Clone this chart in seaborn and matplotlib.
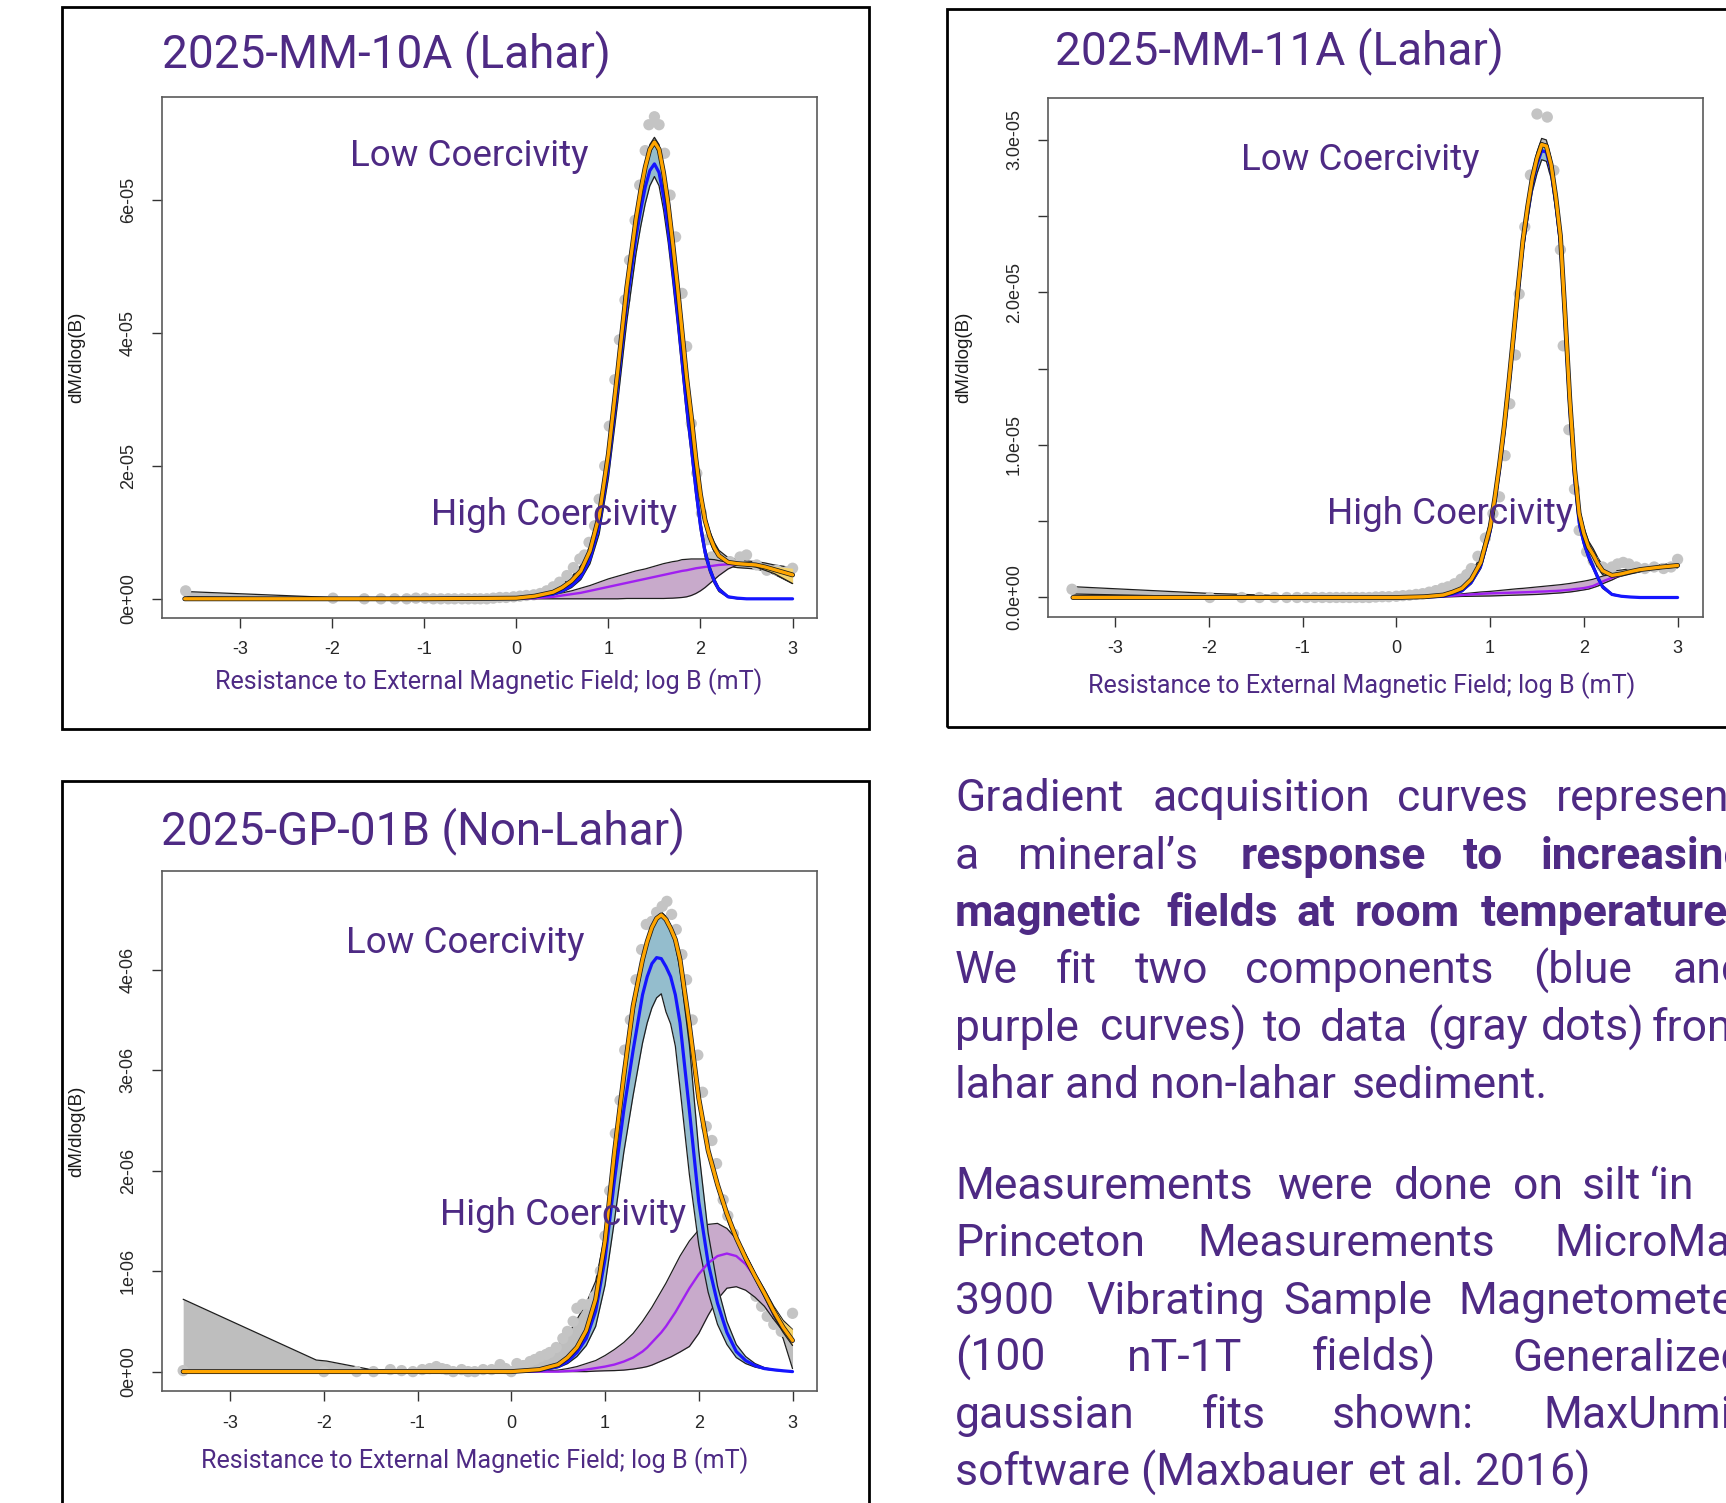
import numpy as np
import matplotlib
matplotlib.use("Agg")
import matplotlib.pyplot as plt
import matplotlib.patheffects as pe
from matplotlib.patches import Rectangle
import seaborn as sns

# ---------------- panel 1 : 2025-MM-10A (Lahar), y in 1e-05 ----------------
x1 = [-3.6, -2.0, -1.0, 0.0, 0.2, 0.4, 0.5, 0.6, 0.7, 0.8, 0.9, 1.0, 1.1, 1.2, 1.3, 1.35, 1.4, 1.45, 1.5,
      1.55, 1.6, 1.65, 1.7, 1.75, 1.8, 1.85, 1.9, 1.95, 2.0, 2.05, 2.1, 2.15, 2.2, 2.3, 2.4, 2.5, 2.6, 2.7,
      2.8, 2.9, 3.0]
blue1 = [0, 0, 0, 0.01, 0.03, 0.07, 0.12, 0.2, 0.33, 0.6, 1.1, 2.0, 3.2, 4.45, 5.45, 5.85, 6.2, 6.45, 6.55,
         6.42, 6.05, 5.55, 4.95, 4.3, 3.6, 2.9, 2.3, 1.65, 1.1, 0.7, 0.45, 0.27, 0.14, 0.03, 0.01, 0, 0, 0,
         0, 0, 0]
purp1 = [0, 0, 0, 0, 0.01, 0.03, 0.05, 0.07, 0.09, 0.12, 0.15, 0.18, 0.21, 0.24, 0.27, 0.285, 0.3, 0.315,
         0.33, 0.345, 0.36, 0.375, 0.39, 0.405, 0.42, 0.43, 0.445, 0.46, 0.47, 0.48, 0.49, 0.5, 0.51, 0.52,
         0.52, 0.52, 0.51, 0.48, 0.44, 0.4, 0.36]
total1 = [0, 0, 0, 0.01, 0.04, 0.1, 0.17, 0.27, 0.42, 0.72, 1.25, 2.18, 3.41, 4.69, 5.72, 6.14, 6.5, 6.77,
          6.88, 6.77, 6.41, 5.93, 5.34, 4.71, 4.02, 3.33, 2.75, 2.11, 1.57, 1.18, 0.94, 0.77, 0.65, 0.55,
          0.53, 0.52, 0.51, 0.48, 0.44, 0.4, 0.36]
blue_lo1 = [0, 0, 0, 0.01, 0.02, 0.06, 0.1, 0.17, 0.29, 0.53, 0.98, 1.82, 2.95, 4.18, 5.2, 5.6, 5.95, 6.22,
            6.36, 6.22, 5.85, 5.36, 4.76, 4.12, 3.43, 2.75, 2.17, 1.54, 1.01, 0.63, 0.4, 0.23, 0.11, 0.02,
            0, 0, 0, 0, 0, 0, 0]
blue_hi1 = [0, 0, 0, 0.01, 0.04, 0.08, 0.14, 0.23, 0.37, 0.67, 1.22, 2.18, 3.45, 4.72, 5.7, 6.1, 6.45, 6.72,
            6.86, 6.7, 6.3, 5.78, 5.16, 4.5, 3.78, 3.06, 2.44, 1.77, 1.2, 0.78, 0.5, 0.31, 0.17, 0.04,
            0.01, 0, 0, 0, 0, 0, 0]
purp_lo1 = [0, 0, 0, 0, 0, 0, 0, 0, 0, 0, 0, 0, 0, 0.005, 0.005, 0.005, 0.005, 0.005, 0.005, 0.005, 0.005,
            0.008, 0.01, 0.015, 0.02, 0.03, 0.05, 0.08, 0.12, 0.17, 0.23, 0.29, 0.35, 0.45, 0.51, 0.52,
            0.51, 0.48, 0.44, 0.4, 0.36]
purp_hi1 = [0, 0, 0, 0.01, 0.03, 0.06, 0.09, 0.12, 0.16, 0.2, 0.25, 0.3, 0.34, 0.38, 0.42, 0.435, 0.45,
            0.47, 0.49, 0.51, 0.53, 0.545, 0.56, 0.57, 0.59, 0.595, 0.6, 0.6, 0.6, 0.6, 0.595, 0.59, 0.575,
            0.55, 0.53, 0.52, 0.51, 0.48, 0.44, 0.4, 0.36]
gray_lo1 = [0.03, 0.01, 0.0, 0.0, 0.02, 0.07, 0.13, 0.22, 0.36, 0.65, 1.17, 2.1, 3.33, 4.61, 5.65, 6.07,
            6.43, 6.7, 6.81, 6.7, 6.33, 5.86, 5.27, 4.64, 3.95, 3.26, 2.68, 2.04, 1.5, 1.11, 0.87, 0.7,
            0.58, 0.49, 0.47, 0.46, 0.45, 0.42, 0.37, 0.3, 0.23]
gray_hi1 = [0.11, 0.02, 0.015, 0.04, 0.08, 0.15, 0.22, 0.33, 0.5, 0.8, 1.33, 2.27, 3.5, 4.78, 5.8, 6.21,
            6.57, 6.84, 6.95, 6.84, 6.49, 6.0, 5.42, 4.79, 4.1, 3.41, 2.83, 2.19, 1.65, 1.26, 1.02, 0.85,
            0.73, 0.62, 0.59, 0.57, 0.56, 0.54, 0.51, 0.49, 0.46]
yel_x1 = [2.4, 2.6, 2.8, 3.0]
yel_lo1 = [0.52, 0.48, 0.38, 0.23]
yel_hi1 = [0.54, 0.53, 0.49, 0.46]
dots_x1 = [-3.59, -1.99, -1.65, -1.47, -1.32, -1.19, -1.09, -0.99, -0.9, -0.82, -0.74, -0.67, -0.59, -0.52,
           -0.45, -0.39, -0.32, -0.25, -0.18, -0.11, -0.03, 0.04, 0.11, 0.19, 0.26, 0.33, 0.4, 0.47, 0.55,
           0.62, 0.69, 0.74, 0.79, 0.85, 0.9, 0.96, 1.01, 1.07, 1.12, 1.18, 1.23, 1.29, 1.34, 1.4, 1.44,
           1.5, 1.55, 1.61, 1.67, 1.73, 1.8, 1.85, 1.9, 1.96, 2.01, 2.07, 2.12, 2.21, 2.32, 2.43, 2.5,
           2.61, 2.72, 2.83, 2.94, 3.0]
dots_y1 = [0.12, 0.01, 0, 0, 0, 0, 0.01, 0.01, 0, 0, 0, 0, 0, 0, 0, 0, 0, 0.01, 0.02, 0.02, 0.03, 0.04,
           0.05, 0.06, 0.08, 0.12, 0.18, 0.25, 0.35, 0.47, 0.6, 0.66, 0.85, 1.1, 1.5, 2.0, 2.6, 3.3, 3.9,
           4.5, 5.1, 5.7, 6.23, 6.75, 7.14, 7.26, 7.14, 6.71, 6.08, 5.45, 4.6, 3.8, 2.64, 1.89, 1.29, 0.89,
           0.63, 0.58, 0.56, 0.63, 0.66, 0.51, 0.43, 0.43, 0.41, 0.46]

# ---------------- panel 2 : 2025-MM-11A (Lahar), y in 1e-05 ----------------
x2 = [-3.45, -2.0, -1.0, 0.0, 0.3, 0.5, 0.6, 0.7, 0.8, 0.9, 1.0, 1.05, 1.1, 1.15, 1.2, 1.25, 1.3, 1.35, 1.4,
      1.45, 1.5, 1.55, 1.6, 1.65, 1.7, 1.75, 1.8, 1.85, 1.9, 1.95, 2.0, 2.05, 2.1, 2.15, 2.2, 2.3, 2.4, 2.5,
      2.6, 2.8, 3.0]
blue2 = [0, 0, 0, 0, 0.002, 0.008, 0.023, 0.044, 0.1, 0.206, 0.433, 0.62, 0.84, 1.09, 1.38, 1.69, 2.01,
         2.31, 2.52, 2.71, 2.84, 2.93, 2.92, 2.8, 2.59, 2.325, 1.8, 1.25, 0.79, 0.49, 0.36, 0.27, 0.2, 0.13,
         0.07, 0.02, 0.008, 0.003, 0, 0, 0]
purp2 = [0, 0, 0, 0, 0.003, 0.008, 0.012, 0.016, 0.02, 0.024, 0.027, 0.028, 0.029, 0.03, 0.031, 0.032,
         0.033, 0.034, 0.035, 0.036, 0.038, 0.039, 0.04, 0.042, 0.043, 0.045, 0.048, 0.051, 0.055, 0.058,
         0.062, 0.068, 0.076, 0.09, 0.105, 0.13, 0.15, 0.17, 0.183, 0.198, 0.21]
total2 = [0, 0, 0, 0, 0.005, 0.016, 0.035, 0.06, 0.12, 0.23, 0.46, 0.65, 0.87, 1.12, 1.41, 1.72, 2.04,
          2.34, 2.56, 2.75, 2.88, 2.97, 2.96, 2.84, 2.63, 2.37, 1.85, 1.3, 0.85, 0.55, 0.42, 0.33, 0.28,
          0.22, 0.175, 0.145, 0.155, 0.17, 0.183, 0.198, 0.21]
blue_lo2 = [0, 0, 0, 0, 0.001, 0.006, 0.02, 0.038, 0.09, 0.19, 0.41, 0.595, 0.81, 1.055, 1.34, 1.645,
            1.96, 2.26, 2.47, 2.66, 2.78, 2.87, 2.86, 2.75, 2.54, 2.28, 1.75, 1.2, 0.75, 0.46, 0.34, 0.25,
            0.185, 0.115, 0.06, 0.015, 0.006, 0.002, 0, 0, 0]
blue_hi2 = [0, 0, 0, 0, 0.003, 0.01, 0.026, 0.05, 0.11, 0.22, 0.455, 0.645, 0.87, 1.125, 1.42, 1.735,
            2.06, 2.36, 2.57, 2.76, 2.9, 2.98, 2.97, 2.85, 2.64, 2.37, 1.85, 1.3, 0.83, 0.52, 0.38, 0.29,
            0.215, 0.145, 0.08, 0.025, 0.01, 0.004, 0, 0, 0]
purp_lo2 = [0, 0, 0, 0, 0.0, 0.003, 0.005, 0.007, 0.008, 0.009, 0.01, 0.011, 0.012, 0.013, 0.014, 0.015,
            0.016, 0.017, 0.018, 0.019, 0.02, 0.022, 0.024, 0.026, 0.028, 0.03, 0.033, 0.036, 0.04, 0.045,
            0.05, 0.055, 0.065, 0.075, 0.09, 0.115, 0.145, 0.165, 0.18, 0.196, 0.208]
purp_hi2 = [0, 0, 0, 0, 0.006, 0.012, 0.018, 0.024, 0.03, 0.036, 0.04, 0.043, 0.046, 0.049, 0.052, 0.055,
            0.058, 0.06, 0.063, 0.066, 0.069, 0.072, 0.075, 0.078, 0.081, 0.084, 0.088, 0.092, 0.097, 0.102,
            0.107, 0.113, 0.12, 0.13, 0.14, 0.155, 0.16, 0.175, 0.187, 0.2, 0.212]
gray_lo2 = [0.023, 0.005, 0, 0, 0, 0.01, 0.025, 0.045, 0.1, 0.2, 0.43, 0.62, 0.84, 1.09, 1.38, 1.69, 2.0,
            2.3, 2.52, 2.71, 2.84, 2.93, 2.92, 2.8, 2.59, 2.33, 1.81, 1.26, 0.81, 0.51, 0.38, 0.3, 0.25,
            0.19, 0.15, 0.125, 0.14, 0.155, 0.168, 0.185, 0.195]
gray_hi2 = [0.071, 0.027, 0.008, 0.012, 0.023, 0.05, 0.07, 0.1, 0.16, 0.27, 0.5, 0.69, 0.91, 1.16, 1.45,
            1.76, 2.08, 2.38, 2.6, 2.79, 2.92, 3.01, 3.0, 2.88, 2.67, 2.41, 1.89, 1.34, 0.89, 0.59, 0.46,
            0.37, 0.32, 0.26, 0.21, 0.175, 0.18, 0.19, 0.2, 0.215, 0.23]
yel_x2 = [2.6, 3.0]
yel_lo2 = [0.178, 0.2]
yel_hi2 = [0.19, 0.222]
dots_x2 = [-3.46, -1.99, -1.65, -1.46, -1.3, -1.17, -1.06, -0.96, -0.87, -0.79, -0.71, -0.64, -0.57, -0.5,
           -0.43, -0.36, -0.29, -0.22, -0.15, -0.08, 0.0, 0.07, 0.14, 0.21, 0.28, 0.35, 0.42, 0.49, 0.55,
           0.62, 0.69, 0.75, 0.8, 0.87, 0.95, 1.03, 1.1, 1.16, 1.21, 1.27, 1.31, 1.37, 1.43, 1.5, 1.61,
           1.68, 1.75, 1.78, 1.84, 1.9, 1.95, 2.03, 2.1, 2.2, 2.3, 2.36, 2.42, 2.48, 2.56, 2.65, 2.75,
           2.85, 2.93, 3.0]
dots_y2 = [0.054, 0.0, 0.0, 0.0, 0.0, 0.0, 0.0, 0.0, 0.0, 0.0, 0.0, 0.0, 0.0, 0.0, 0.0, 0.0, 0.0, 0.003,
           0.005, 0.005, 0.008, 0.012, 0.015, 0.02, 0.025, 0.035, 0.045, 0.06, 0.07, 0.09, 0.12, 0.15, 0.19,
           0.27, 0.39, 0.55, 0.66, 0.93, 1.27, 1.59, 1.99, 2.43, 2.77, 3.17, 3.15, 2.8, 2.28, 1.65, 1.1,
           0.71, 0.44, 0.3, 0.24, 0.2, 0.2, 0.22, 0.23, 0.22, 0.2, 0.19, 0.2, 0.19, 0.2, 0.25]

# ---------------- panel 3 : 2025-GP-01B (Non-Lahar), y in 1e-06 ----------------
x3 = [-3.5, -2.08, -1.97, -1.47, -1.0, 0.0, 0.3, 0.5, 0.6, 0.7, 0.8, 0.9, 1.0, 1.1, 1.2, 1.3, 1.4, 1.45,
      1.5, 1.55, 1.6, 1.65, 1.7, 1.75, 1.8, 1.9, 2.0, 2.1, 2.2, 2.3, 2.4, 2.5, 2.6, 2.7, 2.8, 2.9, 3.0]
blue3 = [0, 0, 0, 0, 0, 0, 0.01, 0.05, 0.1, 0.19, 0.33, 0.6, 1.12, 1.9, 2.6, 3.2, 3.75, 3.93, 4.06, 4.12,
         4.11, 4.03, 3.93, 3.75, 3.47, 2.6, 1.69, 1.08, 0.68, 0.39, 0.2, 0.11, 0.06, 0.03, 0.018, 0.008, 0.0]
purp3 = [0, 0, 0, 0, 0, 0, 0, 0, 0.005, 0.01, 0.02, 0.035, 0.05, 0.07, 0.1, 0.14, 0.2, 0.24, 0.29,
         0.34, 0.39, 0.45, 0.52, 0.59, 0.67, 0.83, 0.97, 1.08, 1.15, 1.175, 1.15, 1.07, 0.94, 0.77, 0.58,
         0.43, 0.3]
total3 = [0, 0, 0, 0, 0, 0, 0.02, 0.07, 0.14, 0.24, 0.41, 0.72, 1.3, 2.18, 2.94, 3.64, 4.1, 4.28, 4.42,
          4.51, 4.545, 4.5, 4.41, 4.3, 4.1, 3.45, 2.72, 2.2, 1.86, 1.57, 1.33, 1.13, 0.95, 0.78, 0.6, 0.44,
          0.31]
blue_lo3 = [0, 0, 0, 0, 0, 0, 0.005, 0.04, 0.08, 0.15, 0.26, 0.45, 0.86, 1.5, 2.18, 2.75, 3.27, 3.47, 3.62,
            3.72, 3.76, 3.58, 3.46, 3.24, 2.82, 1.96, 1.26, 0.79, 0.47, 0.27, 0.14, 0.08, 0.045, 0.025,
            0.012, 0.005, 0.0]
blue_hi3 = [0, 0, 0, 0, 0, 0, 0.01, 0.06, 0.12, 0.22, 0.38, 0.68, 1.25, 2.1, 2.85, 3.55, 4.05, 4.25, 4.4,
            4.5, 4.54, 4.52, 4.42, 4.25, 4.0, 3.25, 2.2, 1.38, 0.85, 0.5, 0.27, 0.15, 0.08, 0.04, 0.02,
            0.01, 0.0]
purp_lo3 = [0, 0, 0, 0, 0, 0, 0, 0, 0, 0, 0, 0.005, 0.008, 0.01, 0.015, 0.025, 0.04, 0.05, 0.065, 0.085,
            0.105, 0.125, 0.145, 0.17, 0.195, 0.25, 0.38, 0.56, 0.72, 0.83, 0.845, 0.81, 0.74, 0.65, 0.52,
            0.4, 0.29]
purp_hi3 = [0, 0, 0, 0, 0, 0, 0.005, 0.015, 0.03, 0.05, 0.08, 0.11, 0.16, 0.22, 0.29, 0.38, 0.5, 0.57,
            0.64, 0.72, 0.8, 0.88, 0.97, 1.06, 1.15, 1.3, 1.41, 1.465, 1.475, 1.425, 1.32, 1.17, 0.98, 0.79,
            0.6, 0.44, 0.31]
gray_lo3 = [0, 0, 0, 0, 0, 0, 0.01, 0.05, 0.12, 0.22, 0.39, 0.7, 1.27, 2.14, 2.9, 3.6, 4.06, 4.24, 4.38,
            4.47, 4.5, 4.46, 4.37, 4.26, 4.06, 3.41, 2.68, 2.16, 1.82, 1.52, 1.27, 1.06, 0.86, 0.66, 0.5,
            0.33, 0.03]
gray_hi3 = [0.72, 0.115, 0.105, 0.015, 0.015, 0.035, 0.14, 0.27, 0.36, 0.52, 0.68, 0.9, 1.36, 2.22, 2.97,
            3.67, 4.13, 4.31, 4.45, 4.54, 4.575, 4.53, 4.44, 4.33, 4.13, 3.48, 2.75, 2.23, 1.89, 1.6, 1.36,
            1.16, 0.98, 0.82, 0.65, 0.51, 0.42]
yel_x3 = [2.6, 2.7, 2.8, 2.9, 3.0]
yel_lo3 = [0.92, 0.74, 0.55, 0.39, 0.26]
yel_hi3 = [0.97, 0.81, 0.64, 0.5, 0.42]
dots_x3 = [-3.5, -2.0, -1.65, -1.47, -1.29, -1.17, -1.05, -0.95, -0.87, -0.8, -0.74, -0.69, -0.62, -0.53,
           -0.46, -0.39, -0.3, -0.21, -0.12, -0.06, 0.0, 0.06, 0.13, 0.2, 0.25, 0.31, 0.37, 0.41, 0.48,
           0.55, 0.6, 0.66, 0.7, 0.76, 0.83, 0.89, 0.95, 1.0, 1.05, 1.11, 1.16, 1.21, 1.27, 1.33, 1.39,
           1.44, 1.5, 1.55, 1.61, 1.66, 1.71, 1.76, 1.82, 1.87, 1.93, 1.99, 2.04, 2.08, 2.14, 2.19, 2.26,
           2.31, 2.37, 2.43, 2.49, 2.55, 2.61, 2.67, 2.73, 2.8, 2.88, 3.0]
dots_y3 = [0.01, 0.0, 0.0, 0.0, 0.02, 0.01, 0.0, 0.02, 0.03, 0.05, 0.03, 0.02, 0.0, 0.02, 0.0, 0.0, 0.02,
           0.02, 0.07, 0.03, 0.0, 0.08, 0.06, 0.1, 0.12, 0.15, 0.17, 0.19, 0.24, 0.33, 0.4, 0.5, 0.63,
           0.67, 0.67, 0.75, 1.0, 1.35, 1.8, 2.37, 2.7, 3.2, 3.5, 3.9, 4.2, 4.45, 4.48, 4.57, 4.63, 4.68,
           4.55, 4.4, 4.15, 3.9, 3.5, 3.15, 2.78, 2.44, 2.3, 2.07, 1.71, 1.55, 1.37, 1.2, 1.02, 0.85, 0.75,
           0.65, 0.55, 0.47, 0.4, 0.58]

# ---------------- style ----------------
W, H = 1726, 1503
TXT = "#4E2A84"
R_FONT = "Liberation Sans"

sns.set_theme(style="white")
plt.rcParams["font.family"] = ["Roboto", "DejaVu Sans"]

fig = plt.figure(figsize=(W / 100, H / 100), dpi=100)


def rect(l, t, r, b):
    return [l / W, 1 - b / H, (r - l) / W, (b - t) / H]


def draw(ax, x, tot, blu, pur, blo, bhi, plo, phi, glo, ghi, yx, ylo, yhi, dx, dy, unit):
    sc = lambda v: np.asarray(v, float) * unit
    edge = dict(color="#1e1e1e", lw=0.9)
    ax.fill_between(x, sc(glo), sc(ghi), color="#bebebe", lw=0, zorder=1)
    ax.plot(x, sc(glo), zorder=1.5, **edge)
    ax.plot(x, sc(ghi), zorder=1.5, **edge)
    sns.scatterplot(x=dx, y=sc(dy), ax=ax, color="#c4c4c4", s=66, edgecolor="none",
                    zorder=2, legend=False)
    ax.fill_between(x, sc(plo), sc(phi), color="#c8aacb", lw=0, zorder=3)
    ax.plot(x, sc(plo), zorder=3.5, **edge)
    ax.plot(x, sc(phi), zorder=3.5, **edge)
    ax.fill_between(x, sc(blo), sc(bhi), color="#94bdcd", lw=0, zorder=4)
    ax.plot(x, sc(blo), zorder=4.5, **edge)
    ax.plot(x, sc(bhi), zorder=4.5, **edge)
    ax.fill_between(yx, sc(ylo), sc(yhi), color="#f4d36c", lw=0, zorder=5)
    ax.plot(yx, sc(ylo), zorder=5.5, **edge)
    sns.lineplot(x=x, y=sc(pur), ax=ax, color="#a020f0", lw=1.7, sort=False, estimator=None, zorder=6)
    sns.lineplot(x=x, y=sc(blu), ax=ax, color="#1515ff", lw=2.3, sort=False, estimator=None, zorder=7)
    sns.lineplot(x=x, y=sc(tot), ax=ax, color="#ffa500", lw=2.4, sort=False, estimator=None, zorder=8,
                 path_effects=[pe.Stroke(linewidth=3.5, foreground="#1a1a1a"), pe.Normal()])


def style_axes(ax, xlim, ylim, yticks, ylabels):
    ax.set_xlim(*xlim)
    ax.set_ylim(*ylim)
    ax.set_xticks(range(-3, 4))
    ax.set_xticklabels(["-3", "-2", "-1", "0", "1", "2", "3"])
    ax.set_yticks(yticks)
    ax.set_yticklabels(ylabels)
    ax.set_xlabel("")
    ax.set_ylabel("")
    for s in ax.spines.values():
        s.set_visible(True)
        s.set_color("#5a5a5a")
        s.set_linewidth(1.2)
    ax.tick_params(axis="both", direction="out", length=7, width=1.0, color="#333333",
                   labelsize=13, labelcolor="#262626", bottom=True, left=True)
    ax.tick_params(axis="x", pad=10)
    ax.tick_params(axis="y", pad=11)
    for lb in ax.get_xticklabels() + ax.get_yticklabels():
        lb.set_family(R_FONT)
    for lb in ax.get_yticklabels():
        lb.set_rotation(90)
        lb.set_va("center")


# panel 1
ax1 = fig.add_axes(rect(161.8, 96.9, 816.8, 617.6))
draw(ax1, x1, total1, blue1, purp1, blue_lo1, blue_hi1, purp_lo1, purp_hi1, gray_lo1, gray_hi1,
     yel_x1, yel_lo1, yel_hi1, dots_x1, dots_y1, 1e-5)
style_axes(ax1, (-3.849, 3.263), (-0.283e-5, 7.559e-5), [0, 2e-5, 4e-5, 6e-5],
           ["0e+00", "2e-05", "4e-05", "6e-05"])

# panel 2
ax2 = fig.add_axes(rect(1048, 98, 1703, 616.5))
draw(ax2, x2, total2, blue2, purp2, blue_lo2, blue_hi2, purp_lo2, purp_hi2, gray_lo2, gray_hi2,
     yel_x2, yel_lo2, yel_hi2, dots_x2, dots_y2, 1e-5)
style_axes(ax2, (-3.716, 3.271), (-0.1246e-5, 3.275e-5),
           [0, 0.5e-5, 1e-5, 1.5e-5, 2e-5, 2.5e-5, 3e-5],
           ["0.0e+00", "", "1.0e-05", "", "2.0e-05", "", "3.0e-05"])

# panel 3
ax3 = fig.add_axes(rect(161.8, 870.7, 816.8, 1391.4))
draw(ax3, x3, total3, blue3, purp3, blue_lo3, blue_hi3, purp_lo3, purp_hi3, gray_lo3, gray_hi3,
     yel_x3, yel_lo3, yel_hi3, dots_x3, dots_y3, 1e-6)
style_axes(ax3, (-3.728, 3.259), (-0.197e-6, 4.985e-6), [0, 1e-6, 2e-6, 3e-6, 4e-6],
           ["0e+00", "1e-06", "2e-06", "3e-06", "4e-06"])

# black frames around each figure panel
for l, t, r, b in [(61.6, 6.6, 868.5, 728.7), (946.7, 8.8, 1745, 726.5), (61.6, 780.5, 868.5, 1520)]:
    fig.patches.append(Rectangle((l / W, 1 - b / H), (r - l) / W, (b - t) / H, transform=fig.transFigure,
                                 fill=False, ec="black", lw=2.0, zorder=0))


def ftext(px, py, s, **kw):
    fig.text(px / W, 1 - py / H, s, **kw)


# titles, component labels, axis labels
for px, py, s in [(161.8, 67.5, "2025-MM-10A (Lahar)"), (1055, 64, "2025-MM-11A (Lahar)"),
                  (161, 844, "2025-GP-01B (Non-Lahar)")]:
    ftext(px, py, s, fontsize=33, color=TXT, va="baseline")

for px, py, s in [(350, 166, "Low Coercivity"), (431, 525, "High Coercivity"),
                  (1241, 170.5, "Low Coercivity"), (1327, 524.5, "High Coercivity"),
                  (346, 953, "Low Coercivity"), (440, 1225, "High Coercivity")]:
    ftext(px, py, s, fontsize=26.5, color=TXT, va="baseline", zorder=10)

for px, py in [(488.5, 689), (1362, 693), (475, 1468)]:
    ftext(px, py, "Resistance to External Magnetic Field; log B (mT)", fontsize=18.1, color=TXT,
          ha="center", va="baseline")

for px, py in [(77, 357.3), (964, 357.3), (77, 1131)]:
    ftext(px, py, "dM/dlog(B)", fontsize=13.5, color="#1a1a1a", rotation=90, ha="center",
          va="center", family=R_FONT)

# justified description text (word start positions follow the poster layout)
body = [
    (811.5, [("Gradient", 955, 0), ("acquisition", 1153, 0), ("curves", 1397, 0), ("represent", 1556, 0)]),
    (868.8, [("a", 955, 0), ("mineral\u2019s", 1018, 0), ("response", 1241, 1), ("to", 1463, 1),
             ("increasing", 1541, 1)]),
    (926.1, [("magnetic", 955, 1), ("fields", 1166, 1), ("at", 1296, 1), ("room", 1355, 1),
             ("temperature.", 1481, 1)]),
    (983.4, [("We", 955, 0), ("fit", 1056, 0), ("two", 1135, 0), ("components", 1245, 0),
             ("(blue", 1533, 0), ("and", 1673, 0)]),
    (1040.7, [("purple", 955, 0), ("curves)", 1100, 0), ("to", 1263, 0), ("data", 1320, 0),
              ("(gray", 1427, 0), ("dots)", 1541, 0), ("from", 1652, 0)]),
    (1098, [("lahar and non-lahar", 955, 0), ("sediment.", 1352, 0)]),
    (1199, [("Measurements", 955, 0), ("were", 1277, 0), ("done", 1394, 0), ("on", 1513, 0),
            ("silt", 1582, 0), ("\u2018in", 1650, 0)]),
    (1256.3, [("Princeton", 955, 0), ("Measurements", 1197, 0), ("MicroMag", 1554, 0)]),
    (1313.6, [("3900", 955, 0), ("Vibrating", 1086, 0), ("Sample", 1283, 0), ("Magnetometer", 1458, 0)]),
    (1370.9, [("(100", 955, 0), ("nT-1T", 1127, 0), ("fields)", 1312, 0), ("Generalized", 1512, 0)]),
    (1428.2, [("gaussian", 955, 0), ("fits", 1202, 0), ("shown:", 1332, 0), ("MaxUnmix", 1543, 0)]),
    (1485.5, [("software (Maxbauer", 955, 0), ("et al. 2016)", 1368, 0)]),
]
for py, words in body:
    for w, px, b in words:
        ftext(px, py, w, fontsize=32, color=TXT, va="baseline",
              fontweight="bold" if b else "normal")

fig.savefig("out.png", dpi=100, facecolor="white")
